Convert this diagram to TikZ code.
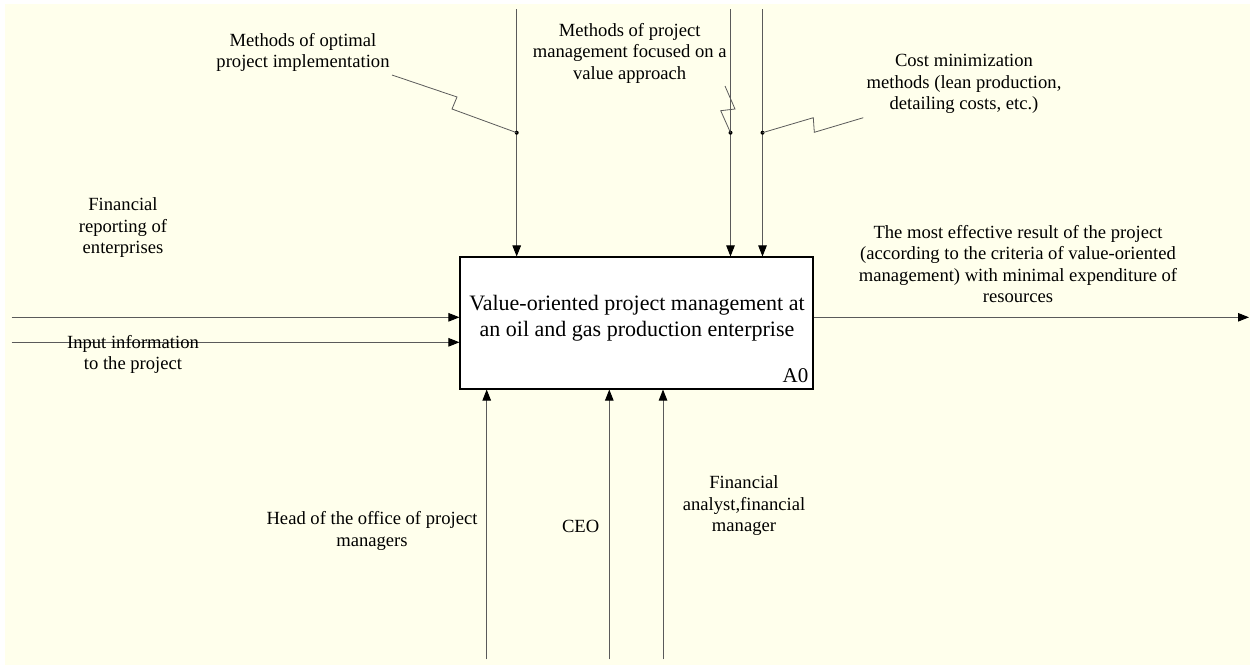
\documentclass[tikz,border=0pt]{standalone}
\usepackage{fontspec}
\setmainfont{Liberation Serif}
\usetikzlibrary{arrows.meta}
\definecolor{bgyellow}{RGB}{255,255,236}
\definecolor{linegray}{RGB}{90,90,90}
\begin{document}
\begin{tikzpicture}[x=1pt,y=-1pt,
  lbl/.style={align=center, font=\fontsize{18.6}{21.5}\selectfont, inner sep=0pt},
  arr/.style={draw=linegray, line width=0.9pt, -{Triangle[length=11pt,width=8.5pt,fill=black,color=black]}},
  sq/.style={draw=linegray, line width=0.8pt},
  dotn/.style={circle, fill=black, inner sep=0pt, minimum size=4pt},
  procbox/.style={draw=black, line width=1.1pt, fill=white, minimum width=353pt, minimum height=132pt, inner sep=0pt}]
\useasboundingbox (0,0) rectangle (1250,665);
\fill[bgyellow] (5,4) rectangle (1250,665);
% process box
\node[procbox] (a0) at (636.5,323) {};
\node[align=center, font=\fontsize{22}{25.7}\selectfont, inner sep=0pt] (a0text) at (637,318)
  {Value-oriented project management at\\an oil and gas production enterprise};
\node[font=\fontsize{21}{24}\selectfont, inner sep=0pt] (a0lbl) at (795.5,376) {A0};
% inputs
\coordinate (in1) at (11.7,317.3);
\coordinate (in2) at (11.7,342.3);
\draw[arr] (in1) -- (in1 -| a0.west);
\draw[arr] (in2) -- (in2 -| a0.west);
% output
\coordinate (out1) at (1249,317.3);
\draw[arr] (a0.east |- out1) -- (out1);
% controls
\coordinate (t1) at (516.7,9.3);
\coordinate (t2) at (730.5,9.3);
\coordinate (t3) at (762.5,9.3);
\draw[arr] (t1) -- (t1 |- a0.north);
\draw[arr] (t2) -- (t2 |- a0.north);
\draw[arr] (t3) -- (t3 |- a0.north);
\node[dotn] (d1) at (516.7,132.7) {};
\node[dotn] (d2) at (730.5,132.7) {};
\node[dotn] (d3) at (762.5,132.7) {};
% mechanisms
\coordinate (b1) at (486.7,659.3);
\coordinate (b2) at (609.3,659.3);
\coordinate (b3) at (663,659.3);
\draw[arr] (b1) -- (b1 |- a0.south);
\draw[arr] (b2) -- (b2 |- a0.south);
\draw[arr] (b3) -- (b3 |- a0.south);
% squiggles
\coordinate (s1) at (392,75);
\coordinate (s2) at (725,86);
\coordinate (s3) at (863.3,117.7);
\draw[sq] (s1) -- (457,97) -- (452,109) -- (d1.center);
\draw[sq] (s2) -- (735,109) -- (720.7,110.7) -- (d2.center);
\draw[sq] (d3.center) -- (813.3,117.7) -- (814.3,132.3) -- (s3);
% labels
\node[lbl] (l1) at (303,52.5) {Methods of optimal\\project implementation};
\node[lbl] (l2) at (629.7,53) {Methods of project\\management focused on a\\value approach};
\node[lbl] (l3) at (964,84) {Cost minimization\\methods (lean production,\\detailing costs, etc.)};
\node[lbl] (l4) at (123,228) {Financial\\reporting of\\enterprises};
\node[lbl] (l5) at (133,354.5) {Input information\\to the project};
\node[lbl] (l6) at (1018,264) {The most effective result of the project\\(according to the criteria of value-oriented\\management) with minimal expenditure of\\resources};
\node[lbl] (l7) at (372,531) {Head of the office of project\\managers};
\node[lbl] (l8) at (580.6,526.7) {CEO};
\node[lbl] (l9) at (744,506) {Financial\\analyst,financial\\manager};
\end{tikzpicture}
\end{document}
